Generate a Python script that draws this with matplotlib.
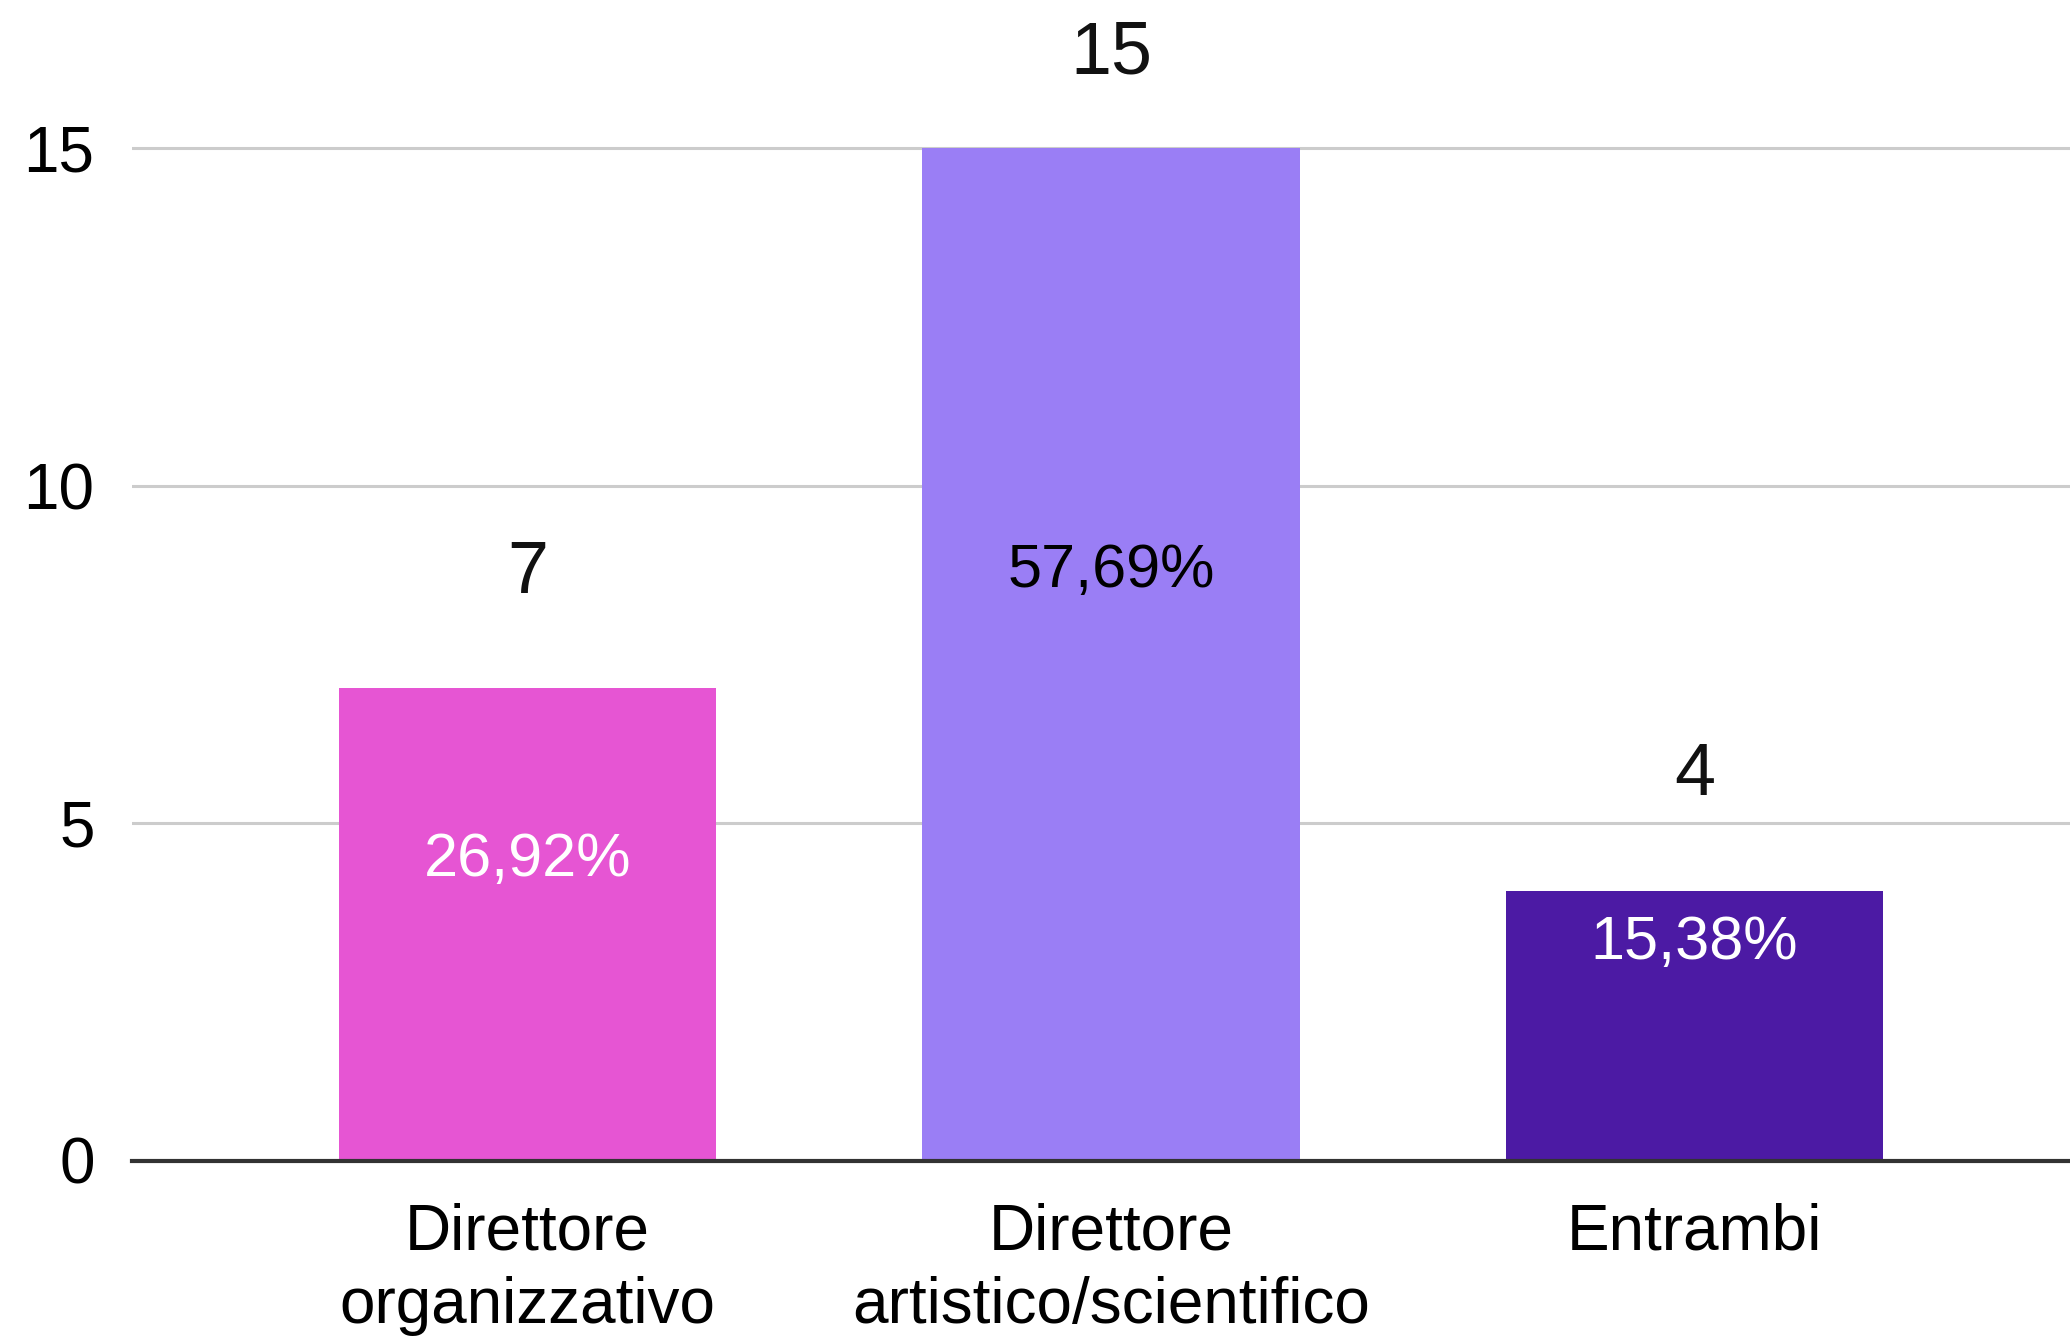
import matplotlib.pyplot as plt

# data
categories = ["Direttore\norganizzativo", "Direttore\nartistico/scientifico", "Entrambi"]
counts = [7, 15, 4]
percent_labels = ["26,92%", "57,69%", "15,38%"]
bar_colors = ["#E655D3", "#9A7EF5", "#4C1AA4"]
pct_colors = ["white", "black", "white"]
yticks = [0, 5, 10, 15]

# where the inside labels sit (data units), as in the original
pct_label_y = [4.45, 8.72, 3.22]

plt.rcParams["font.family"] = ["Liberation Sans", "DejaVu Sans"]

fig = plt.figure(figsize=(20.7, 13.39), dpi=100)
ax = fig.add_axes([132 / 2070, 1 - 1160.5 / 1339, 1 - 132 / 2070, 1160.5 / 1339])

x = list(range(len(categories)))
ax.bar(x, counts, width=0.647, color=bar_colors, zorder=3)

ax.set_xlim(-0.678, 2.644)
ax.set_ylim(0, 1160.5 / 67.5)

# grid
for t in yticks[1:]:
    ax.axhline(t, color="#CCCCCC", linewidth=2.2, zorder=1)
ax.axhline(0, color="#333333", linewidth=3, zorder=4, clip_on=False)

ax.set_yticks(yticks)
ax.set_yticklabels([str(t) for t in yticks], fontsize=46)
ax.set_xticks(x)
ax.set_xticklabels(categories, fontsize=46, linespacing=1.3)
ax.tick_params(axis="y", length=0, pad=27)
ax.tick_params(axis="x", length=0, pad=30)

for s in ax.spines.values():
    s.set_visible(False)

# value labels above bars
for i, v in enumerate(counts):
    ax.text(i, min(v + 1.70, 16.4), str(v), ha="center", va="center", fontsize=53, color="#111111")

# percentage labels inside bars
for i, p in enumerate(percent_labels):
    ax.text(i, pct_label_y[i], p, ha="center", va="center", fontsize=44, color=pct_colors[i], zorder=5)

plt.savefig("out.png", dpi=100)
